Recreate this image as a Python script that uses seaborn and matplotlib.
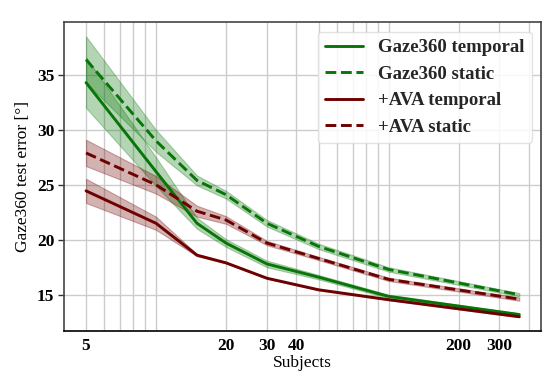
import matplotlib
matplotlib.use("Agg")
import matplotlib.pyplot as plt
import numpy as np
import pandas as pd
import seaborn as sns

# subjects used for training
subjects = [5, 10, 15, 20, 30, 50, 100, 365]

# mean test error and half width of the shaded band
gaze_temporal = [34.3, 26.2, 21.5, 19.7, 17.8, 16.6, 14.85, 13.2]
gaze_temporal_err = [2.3, 1.3, 0.5, 0.35, 0.3, 0.2, 0.15, 0.1]
gaze_static = [36.4, 29.0, 25.4, 24.1, 21.5, 19.4, 17.3, 15.0]
gaze_static_err = [2.1, 1.0, 0.45, 0.35, 0.3, 0.25, 0.2, 0.15]
ava_temporal = [24.45, 21.5, 18.6, 17.9, 16.5, 15.45, 14.55, 13.0]
ava_temporal_err = [1.1, 0.6, 0.1, 0.05, 0.05, 0.05, 0.05, 0.05]
ava_static = [27.9, 25.0, 22.6, 21.8, 19.7, 18.3, 16.4, 14.6]
ava_static_err = [1.2, 0.8, 0.5, 0.35, 0.2, 0.15, 0.15, 0.15]

labels = ["Gaze360 temporal", "Gaze360 static", "+AVA temporal", "+AVA static"]
major_ticks = [5, 20, 30, 40, 200, 300]
minor_ticks = [6, 7, 8, 9, 10, 50, 60, 70, 80, 90, 100, 400]

GREEN = "#087508"
RED = "#6e0000"

sns.set_theme(style="whitegrid")
plt.rcParams["font.family"] = ["Liberation Serif", "DejaVu Serif"]

fig, ax = plt.subplots(figsize=(5.59, 3.82), dpi=100)
fig.subplots_adjust(left=0.1145, right=0.968, top=0.942, bottom=0.1335)

series = [
    (gaze_temporal, gaze_temporal_err, GREEN, "-"),
    (gaze_static, gaze_static_err, GREEN, "--"),
    (ava_temporal, ava_temporal_err, RED, "-"),
    (ava_static, ava_static_err, RED, "--"),
]

for (vals, err, color, ls), label in zip(series, labels):
    df = pd.DataFrame({"subjects": subjects, "error": vals})
    lo = np.array(vals) - np.array(err)
    hi = np.array(vals) + np.array(err)
    ax.fill_between(subjects, lo, hi, color=color, alpha=0.3, linewidth=0.8)
    sns.lineplot(data=df, x="subjects", y="error", ax=ax, color=color,
                 linestyle=ls, linewidth=2.1, label=label)

ax.set_xscale("log")
ax.set_xlim(4.02, 453)
ax.set_ylim(11.7, 39.8)
ax.set_xticks(major_ticks)
ax.set_xticklabels([str(t) for t in major_ticks])
ax.set_xticks(minor_ticks, minor=True)
ax.set_xticklabels([], minor=True)
ax.set_yticks([15, 20, 25, 30, 35])

ax.grid(True, which="both", color="#cccccc", linewidth=1.0)
ax.tick_params(axis="x", which="both", length=0, pad=5)
ax.tick_params(axis="y", length=4, width=1, color="#333333", left=True, pad=3)
for lab in ax.get_xticklabels() + ax.get_yticklabels():
    lab.set_fontweight("bold")
    lab.set_fontsize(12.5)
    lab.set_color("black")

for side in ["top", "right", "left"]:
    ax.spines[side].set_color("#444444")
    ax.spines[side].set_linewidth(1.2)
ax.spines["bottom"].set_color("black")
ax.spines["bottom"].set_linewidth(1.2)

ax.set_xlabel("Subjects", fontsize=12.5, color="black", labelpad=1)
ax.set_ylabel("Gaze360 test error [°]", fontsize=12.5, color="black", labelpad=4)

ax.legend(loc="upper right", prop={"weight": "bold", "size": 13.5},
          labelspacing=0.5, framealpha=0.85, edgecolor="#dddddd")

fig.savefig("out.png", dpi=100)
